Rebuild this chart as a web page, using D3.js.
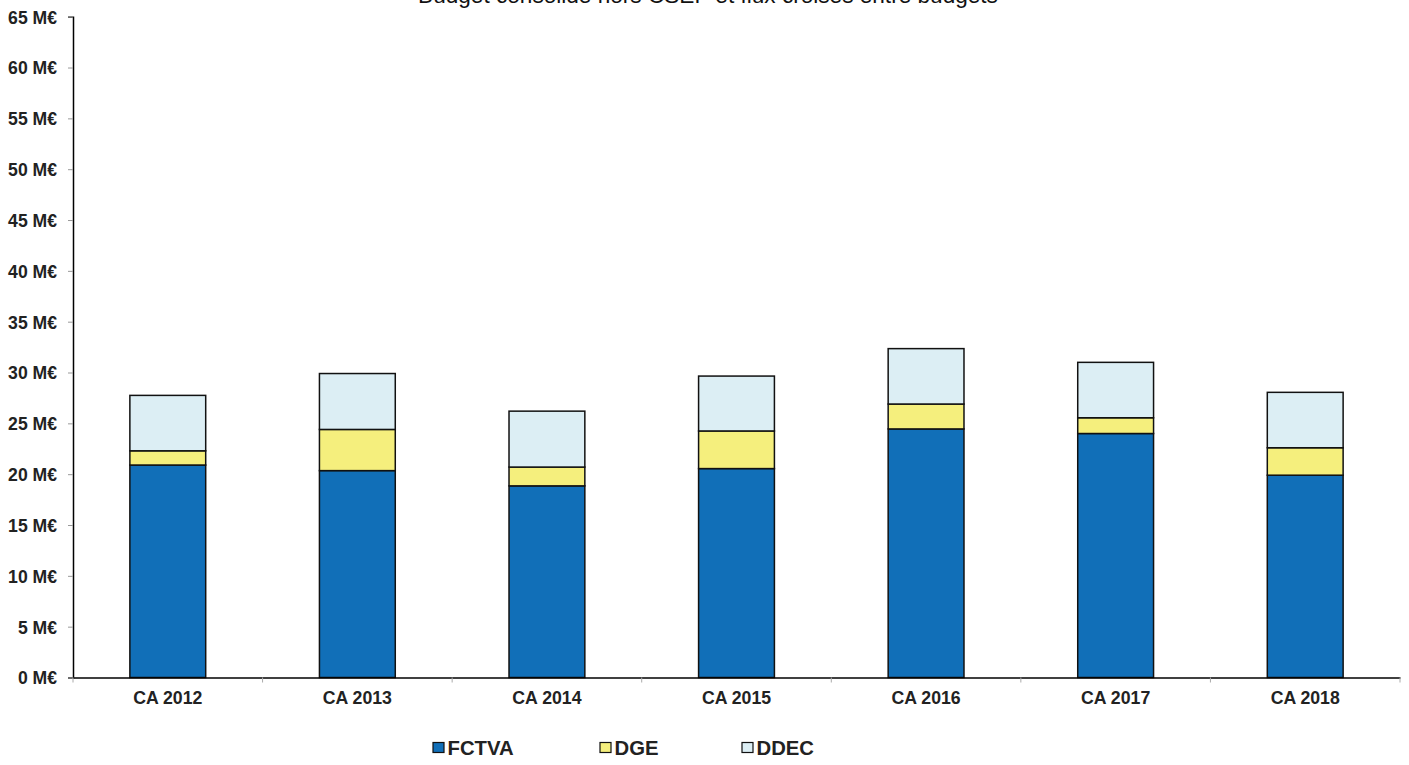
<!DOCTYPE html>
<html>
<head>
<meta charset="utf-8">
<script src="https://cdn.jsdelivr.net/npm/d3@7"></script>
<style>
  body { margin: 0; background: #fff; }
  svg { display: block; font-family: "Liberation Sans", Arial, sans-serif; }
</style>
</head>
<body>
<script>
// data (M€)
var categories = ["CA 2012", "CA 2013", "CA 2014", "CA 2015", "CA 2016", "CA 2017", "CA 2018"];
var fctva = [20.9, 20.35, 18.85, 20.55, 24.45, 24.0, 19.9];
var dge   = [1.4, 4.05, 1.85, 3.7, 2.45, 1.55, 2.7];
var ddec  = [5.45, 5.5, 5.5, 5.4, 5.45, 5.45, 5.45];
var seriesNames = ["FCTVA", "DGE", "DDEC"];
var yTicks = [0, 5, 10, 15, 20, 25, 30, 35, 40, 45, 50, 55, 60, 65];
var title = "Budget consolidé hors CSEP et flux croisés entre budgets";

var colors = {FCTVA: "#116fb8", DGE: "#f5ef7d", DDEC: "#dceef4"};

var W = 1409, H = 765;
var plotLeft = 73, plotRight = 1400, plotTop = 16.7, plotBottom = 677.5;

var svg = d3.select("body").append("svg")
    .attr("width", W)
    .attr("height", H);

// build the table for stacking
var table = categories.map(function(c, i) {
    return {cat: c, FCTVA: fctva[i], DGE: dge[i], DDEC: ddec[i]};
});
var stacked = d3.stack().keys(seriesNames)(table);

var x = d3.scaleBand().domain(categories).range([plotLeft, plotRight])
    .paddingInner(0.6).paddingOuter(0.3);
var y = d3.scaleLinear().domain([0, 65]).range([plotBottom, plotTop]);

// title (mostly cut off at the top, like the original)
svg.append("text")
    .attr("x", 708)
    .attr("y", 2.5)
    .attr("text-anchor", "middle")
    .style("font-size", "22.6px")
    .style("fill", "#111")
    .text(title);

// bars
svg.selectAll(".layer")
    .data(stacked)
    .enter().append("g")
    .attr("class", "layer")
    .attr("fill", function(d) { return colors[d.key]; })
    .selectAll("rect")
    .data(function(d) { return d; })
    .enter().append("rect")
    .attr("x", function(d) { return x(d.data.cat); })
    .attr("y", function(d) { return y(d[1]); })
    .attr("width", x.bandwidth())
    .attr("height", function(d) { return y(d[0]) - y(d[1]); })
    .attr("stroke", "#111")
    .attr("stroke-width", 1.5);

// y axis
var yAxis = svg.append("g")
    .attr("transform", "translate(" + plotLeft + ",0)")
    .call(d3.axisLeft(y).tickValues(yTicks).tickSize(5).tickPadding(11)
        .tickFormat(function(d) { return d + " M€"; }));
yAxis.select(".domain").attr("stroke", "#000").attr("stroke-width", 1.5);
yAxis.selectAll(".tick line").attr("stroke", "#999");
yAxis.selectAll(".tick text")
    .style("font-size", "17.6px")
    .style("font-weight", "bold")
    .style("fill", "#222")
    .attr("dy", "0.36em");

// x axis
var xAxis = svg.append("g")
    .attr("transform", "translate(0," + plotBottom + ")")
    .call(d3.axisBottom(x).tickSize(0).tickPadding(14));
xAxis.select(".domain").attr("stroke", "#000").attr("stroke-width", 1.5);
xAxis.selectAll(".tick text")
    .style("font-size", "17.7px")
    .style("font-weight", "bold")
    .style("fill", "#222");

// boundary ticks between categories
xAxis.selectAll(".sep")
    .data(d3.range(categories.length + 1))
    .enter().append("line")
    .attr("class", "sep")
    .attr("x1", function(i) { return plotLeft + i * x.step(); })
    .attr("x2", function(i) { return plotLeft + i * x.step(); })
    .attr("y1", 0)
    .attr("y2", 5)
    .attr("stroke", "#aaa");

// legend
var legendX = [433, 600, 742];
var legend = svg.selectAll(".legend")
    .data(seriesNames)
    .enter().append("g")
    .attr("class", "legend")
    .attr("transform", function(d, i) { return "translate(" + legendX[i] + ",742.5)"; });
legend.append("rect")
    .attr("width", 11)
    .attr("height", 10)
    .attr("fill", function(d) { return colors[d]; })
    .attr("stroke", "#111")
    .attr("stroke-width", 1.2);
legend.append("text")
    .attr("x", 14.5)
    .attr("y", 12)
    .style("font-size", "20.3px")
    .style("font-weight", "bold")
    .style("fill", "#222")
    .text(function(d) { return d; });
</script>
</body>
</html>
